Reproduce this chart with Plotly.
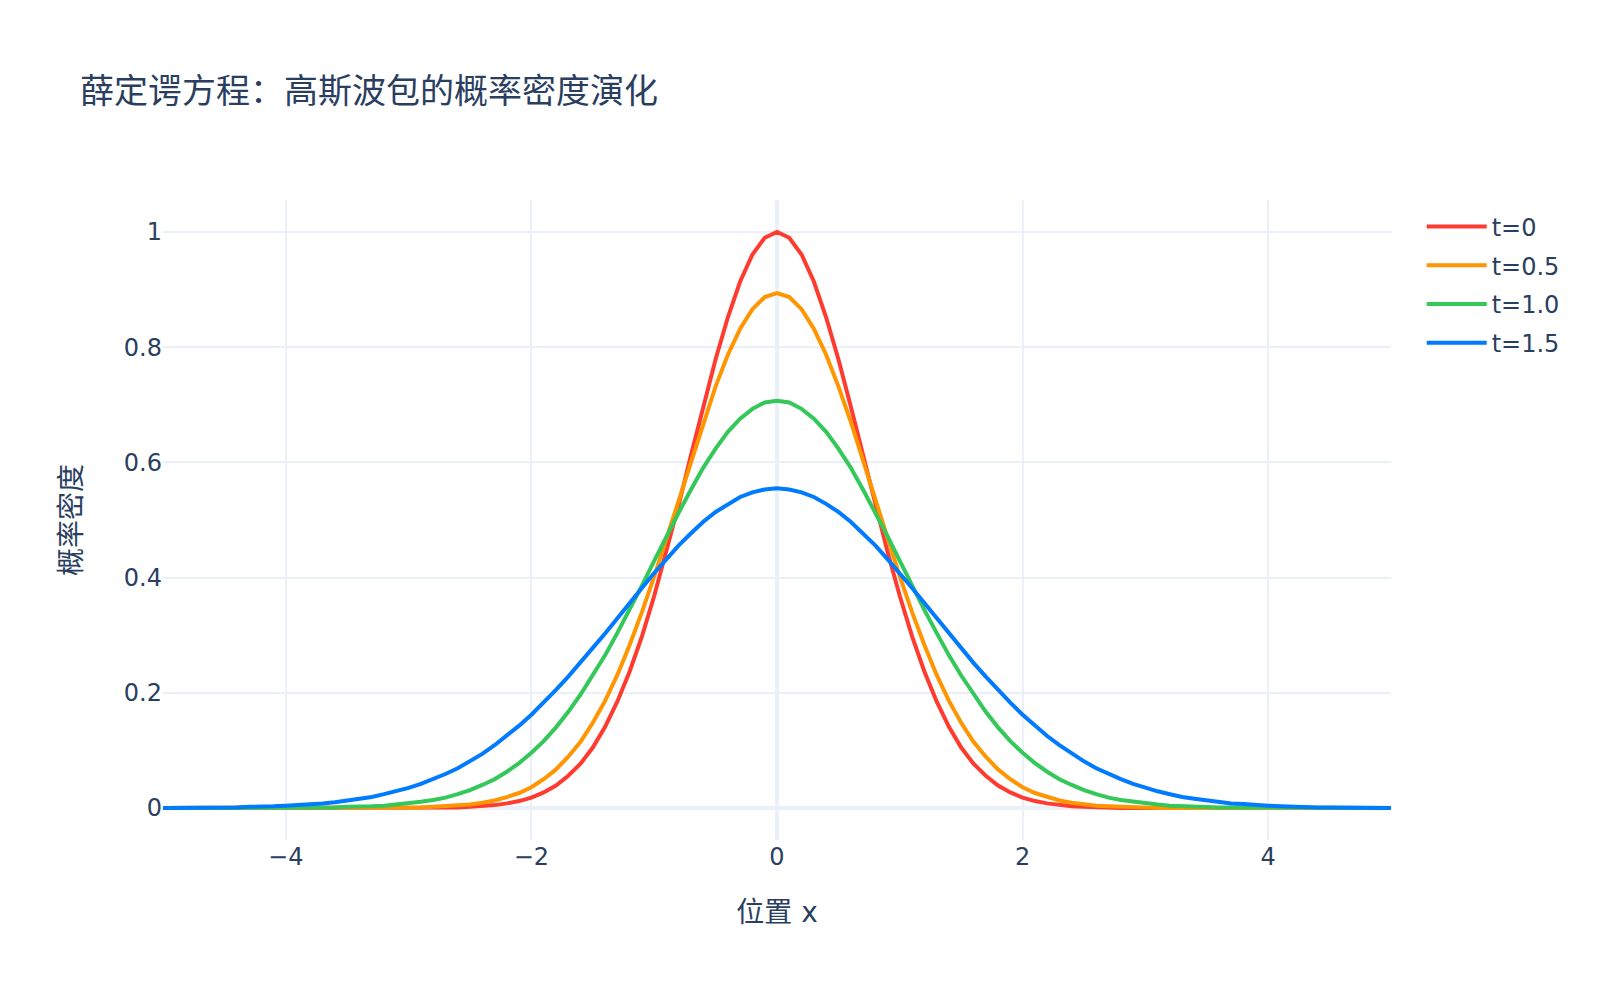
import plotly.graph_objects as go

# x grid: -5.0 ... 5.0 step 0.1
x = [round(-5 + 0.1 * i, 1) for i in range(101)]

# probability densities
t0 = [0, 0, 0, 0, 0, 0, 0, 0, 0, 0,
      0, 0, 0, 0, 0, 0, 0, 0, 0, 0,
      0, 0, 0, 0.001, 0.001, 0.002, 0.003, 0.005, 0.008, 0.012,
      0.018, 0.027, 0.039, 0.056, 0.077, 0.105, 0.141, 0.185, 0.237, 0.298,
      0.368, 0.445, 0.527, 0.613, 0.698, 0.779, 0.852, 0.914, 0.961, 0.990,
      1.000,
      0.990, 0.961, 0.914, 0.852, 0.779, 0.698, 0.613, 0.527, 0.445, 0.368,
      0.298, 0.237, 0.185, 0.141, 0.105, 0.077, 0.056, 0.039, 0.027, 0.018,
      0.012, 0.008, 0.005, 0.003, 0.002, 0.001, 0.001, 0, 0, 0,
      0, 0, 0, 0, 0, 0, 0, 0, 0, 0,
      0, 0, 0, 0, 0, 0, 0, 0, 0, 0]

t05 = [0, 0, 0, 0, 0, 0, 0, 0, 0, 0,
       0, 0, 0, 0, 0, 0, 0, 0, 0, 0,
       0.001, 0.001, 0.002, 0.003, 0.004, 0.006, 0.009, 0.013, 0.019, 0.026,
       0.036, 0.050, 0.067, 0.089, 0.115, 0.148, 0.186, 0.231, 0.283, 0.340,
       0.402, 0.468, 0.536, 0.604, 0.671, 0.732, 0.787, 0.832, 0.866, 0.887,
       0.894,
       0.887, 0.866, 0.832, 0.787, 0.732, 0.671, 0.604, 0.536, 0.468, 0.402,
       0.340, 0.283, 0.231, 0.186, 0.148, 0.115, 0.089, 0.067, 0.050, 0.036,
       0.026, 0.019, 0.013, 0.009, 0.006, 0.004, 0.003, 0.002, 0.001, 0.001,
       0, 0, 0, 0, 0, 0, 0, 0, 0, 0,
       0, 0, 0, 0, 0, 0, 0, 0, 0, 0]

t10 = [0, 0, 0, 0, 0, 0, 0, 0, 0, 0,
       0, 0, 0.001, 0.001, 0.001, 0.002, 0.002, 0.003, 0.004, 0.006,
       0.008, 0.011, 0.014, 0.018, 0.024, 0.031, 0.040, 0.050, 0.063, 0.078,
       0.096, 0.116, 0.140, 0.167, 0.197, 0.230, 0.265, 0.304, 0.344, 0.386,
       0.429, 0.472, 0.513, 0.553, 0.591, 0.624, 0.653, 0.676, 0.693, 0.704,
       0.707,
       0.704, 0.693, 0.676, 0.653, 0.624, 0.591, 0.553, 0.513, 0.472, 0.429,
       0.386, 0.344, 0.304, 0.265, 0.230, 0.197, 0.167, 0.140, 0.116, 0.096,
       0.078, 0.063, 0.050, 0.040, 0.031, 0.024, 0.018, 0.014, 0.011, 0.008,
       0.006, 0.004, 0.003, 0.002, 0.002, 0.001, 0.001, 0.001, 0, 0,
       0, 0, 0, 0, 0, 0, 0, 0, 0, 0]

t15 = [0, 0, 0, 0.001, 0.001, 0.001, 0.001, 0.002, 0.002, 0.003,
       0.004, 0.005, 0.007, 0.008, 0.010, 0.013, 0.016, 0.019, 0.024, 0.029,
       0.035, 0.042, 0.050, 0.059, 0.069, 0.081, 0.094, 0.109, 0.125, 0.143,
       0.162, 0.183, 0.205, 0.228, 0.252, 0.278, 0.303, 0.330, 0.356, 0.382,
       0.408, 0.432, 0.456, 0.477, 0.497, 0.514, 0.528, 0.540, 0.548, 0.553,
       0.555,
       0.553, 0.548, 0.540, 0.528, 0.514, 0.497, 0.477, 0.456, 0.432, 0.408,
       0.382, 0.356, 0.330, 0.303, 0.278, 0.252, 0.228, 0.205, 0.183, 0.162,
       0.143, 0.125, 0.109, 0.094, 0.081, 0.069, 0.059, 0.050, 0.042, 0.035,
       0.029, 0.024, 0.019, 0.016, 0.013, 0.010, 0.008, 0.007, 0.005, 0.004,
       0.003, 0.002, 0.002, 0.001, 0.001, 0.001, 0.001, 0, 0, 0]

series_names = ["t=0", "t=0.5", "t=1.0", "t=1.5"]
series_values = [t0, t05, t10, t15]
series_colors = ["#FF3B30", "#FF9500", "#34C759", "#007AFF"]

title_text = "薛定谔方程：高斯波包的概率密度演化"
x_title = "位置 x"
y_title = "概率密度"

FONT = "Verdana, 'DejaVu Sans', 'Noto Sans CJK SC', sans-serif"

fig = go.Figure()
for name, vals, col in zip(series_names, series_values, series_colors):
    fig.add_trace(go.Scatter(x=x, y=vals, mode="lines", name=name, legendgroup=name,
                             line=dict(color=col, width=4)))

fig.update_layout(
    template="plotly_white",
    width=1600, height=1000,
    margin=dict(l=163, r=209, t=200, b=160),
    font=dict(family=FONT, size=24, color="#2a3f5f"),
    title=dict(text=title_text, font=dict(size=34, family=FONT), x=0.05,
               y=0.909, yanchor="middle"),
    legend=dict(font=dict(size=24), x=1.025, y=0.993, itemwidth=60,
                traceorder="grouped", tracegroupgap=4.5),
)
fig.update_xaxes(title=dict(text=x_title, font=dict(size=28), standoff=32), range=[-5, 5], dtick=2,
                 gridwidth=2, zerolinewidth=4, gridcolor="#EBF0F8", zerolinecolor="#EBF0F8")
fig.update_yaxes(title=dict(text=y_title, font=dict(size=28), standoff=34), dtick=0.2,
                 gridwidth=2, zerolinewidth=4, gridcolor="#EBF0F8", zerolinecolor="#EBF0F8")

fig.write_html("out.html")
